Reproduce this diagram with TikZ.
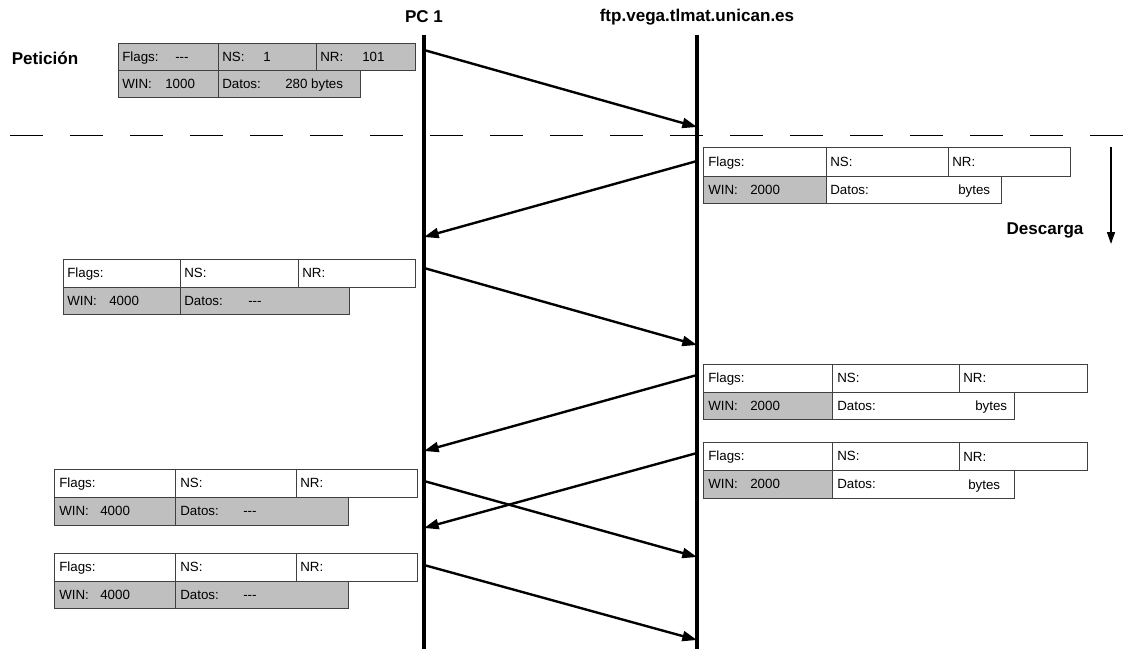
\documentclass[tikz,border=0pt]{standalone}
\usepackage{fontspec}
\setmainfont{Liberation Sans}
\usetikzlibrary{arrows.meta}
\newcommand\ddd{{-}{-}{-}}
\begin{document}
\begin{tikzpicture}[x=0.75pt,y=-0.75pt,
  cell/.style={draw=black!75, line width=0.6pt, fill=white},
  gcell/.style={cell, fill=black!25},
  txt/.style={font=\fontsize{10}{12}\selectfont, anchor=base west, inner sep=0pt, yshift=-3.6pt},
  lbl/.style={font=\fontsize{12.8}{15}\selectfont\bfseries, inner sep=0pt},
  life/.style={line width=2.3pt},
  msg/.style={line width=1.8pt, -{Triangle[length=11pt,width=7.5pt]}},
  sep/.style={line width=1.3pt, dash pattern=on 24.75pt off 20.25pt}]
\useasboundingbox (0,0) rectangle (1135,651);

% headers
\node[lbl] (pc) at (424,17) {PC 1};
\node[lbl] (ftp) at (697,17) {ftp.vega.tlmat.unican.es};
\node[lbl] (pet) at (45,58) {Petición};
\node[lbl] (desc) at (1045,230) {Descarga};

% lifelines
\coordinate (pctop) at (424,35);
\coordinate (pcbot) at (424,649);
\coordinate (fttop) at (697,35);
\coordinate (ftbot) at (697,649);
\draw[life] (pctop) -- (pcbot);
\draw[life] (fttop) -- (ftbot);

% separator
\coordinate (sepl) at (10,135.5);
\coordinate (sepr) at (1135,135.5);
\draw[sep] (sepl) -- (sepr);

% Descarga arrow
\coordinate (dtop) at (1111,147);
\coordinate (dbot) at (1111,244);
\draw[line width=1.1pt, -{Triangle[length=9pt,width=6pt]}] (dtop) -- (dbot);

% Packet 1 (Peticion)
\draw[gcell] (118,43) rectangle (218,70);
\draw[gcell] (218,43) rectangle (316,70);
\draw[gcell] (316,43) rectangle (415,70);
\draw[gcell] (118,70) rectangle (218,97);
\draw[gcell] (218,70) rectangle (360,97);
\node[txt] (p1a) at (122,56.5) {Flags:};
\node[txt] (p1b) at (175,56.5) {\ddd};
\node[txt] (p1c) at (222,56.5) {NS:};
\node[txt] (p1d) at (263,56.5) {1};
\node[txt] (p1e) at (320,56.5) {NR:};
\node[txt] (p1f) at (362,56.5) {101};
\node[txt] (p1g) at (122,83.5) {WIN:};
\node[txt] (p1h) at (165,83.5) {1000};
\node[txt] (p1i) at (222,83.5) {Datos:};
\node[txt] (p1j) at (285,83.5) {280 bytes};

% Packet 2 (server)
\draw[cell] (703,147) rectangle (826,176);
\draw[cell] (826,147) rectangle (948,176);
\draw[cell] (948,147) rectangle (1070,176);
\draw[gcell] (703,176) rectangle (826,203);
\draw[cell] (826,176) rectangle (1001,203);
\node[txt] (p2a) at (708,161.5) {Flags:};
\node[txt] (p2c) at (830,161.5) {NS:};
\node[txt] (p2e) at (952,161.5) {NR:};
\node[txt] (p2g) at (708,189.5) {WIN:};
\node[txt] (p2h) at (750,189.5) {2000};
\node[txt] (p2i) at (830,189.5) {Datos:};
\node[txt] (p2j) at (958,189.5) {bytes};

% Packet 3 (client)
\draw[cell] (63,259) rectangle (180,287);
\draw[cell] (180,259) rectangle (298,287);
\draw[cell] (298,259) rectangle (415,287);
\draw[gcell] (63,287) rectangle (180,314);
\draw[gcell] (180,287) rectangle (349,314);
\node[txt] (p3a) at (67,273) {Flags:};
\node[txt] (p3c) at (184,273) {NS:};
\node[txt] (p3e) at (302,273) {NR:};
\node[txt] (p3g) at (67,300.5) {WIN:};
\node[txt] (p3h) at (109,300.5) {4000};
\node[txt] (p3i) at (184,300.5) {Datos:};
\node[txt] (p3j) at (248,300.5) {\ddd};

% Packet 4 (server)
\draw[cell] (703,364) rectangle (832,392);
\draw[cell] (832,364) rectangle (959,392);
\draw[cell] (959,364) rectangle (1087,392);
\draw[gcell] (703,392) rectangle (832,419);
\draw[cell] (832,392) rectangle (1014,419);
\node[txt] (p4a) at (708,378) {Flags:};
\node[txt] (p4c) at (837,378) {NS:};
\node[txt] (p4e) at (963,378) {NR:};
\node[txt] (p4g) at (708,405.5) {WIN:};
\node[txt] (p4h) at (750,405.5) {2000};
\node[txt] (p4i) at (837,405.5) {Datos:};
\node[txt] (p4j) at (975,405.5) {bytes};

% Packet 5 (server)
\draw[cell] (703,442) rectangle (832,470);
\draw[cell] (832,442) rectangle (959,470);
\draw[cell] (959,442) rectangle (1087,470);
\draw[gcell] (703,470) rectangle (832,498);
\draw[cell] (832,470) rectangle (1014,498);
\node[txt] (p5a) at (708,456) {Flags:};
\node[txt] (p5c) at (837,456) {NS:};
\node[txt] (p5e) at (963,457) {NR:};
\node[txt] (p5g) at (708,484) {WIN:};
\node[txt] (p5h) at (750,484) {2000};
\node[txt] (p5i) at (837,484) {Datos:};
\node[txt] (p5j) at (968,485) {bytes};

% Packet 6 (client)
\draw[cell] (54,469) rectangle (175,497);
\draw[cell] (175,469) rectangle (296,497);
\draw[cell] (296,469) rectangle (417,497);
\draw[gcell] (54,497) rectangle (175,525);
\draw[gcell] (175,497) rectangle (348,525);
\node[txt] (p6a) at (59,483) {Flags:};
\node[txt] (p6c) at (180,483) {NS:};
\node[txt] (p6e) at (300,483) {NR:};
\node[txt] (p6g) at (59,511) {WIN:};
\node[txt] (p6h) at (100,511) {4000};
\node[txt] (p6i) at (180,511) {Datos:};
\node[txt] (p6j) at (243,511) {\ddd};

% Packet 7 (client)
\draw[cell] (54,553) rectangle (175,581);
\draw[cell] (175,553) rectangle (296,581);
\draw[cell] (296,553) rectangle (417,581);
\draw[gcell] (54,581) rectangle (175,608);
\draw[gcell] (175,581) rectangle (348,608);
\node[txt] (p7a) at (59,567) {Flags:};
\node[txt] (p7c) at (180,567) {NS:};
\node[txt] (p7e) at (300,567) {NR:};
\node[txt] (p7g) at (59,594.5) {WIN:};
\node[txt] (p7h) at (100,594.5) {4000};
\node[txt] (p7i) at (180,594.5) {Datos:};
\node[txt] (p7j) at (243,594.5) {\ddd};

% message endpoints
\coordinate (a1s) at (424,50);   \coordinate (a1e) at (697,127);
\coordinate (a2s) at (697,161);  \coordinate (a2e) at (424,237);
\coordinate (a3s) at (424,268);  \coordinate (a3e) at (697,345);
\coordinate (a4s) at (697,375);  \coordinate (a4e) at (424,451);
\coordinate (a5s) at (697,453);  \coordinate (a5e) at (424,528);
\coordinate (a6s) at (424,481);  \coordinate (a6e) at (697,557);
\coordinate (a7s) at (424,565);  \coordinate (a7e) at (697,640);
\foreach \i in {1,...,7} \draw[msg] (a\i s) -- (a\i e);
\end{tikzpicture}
\end{document}
